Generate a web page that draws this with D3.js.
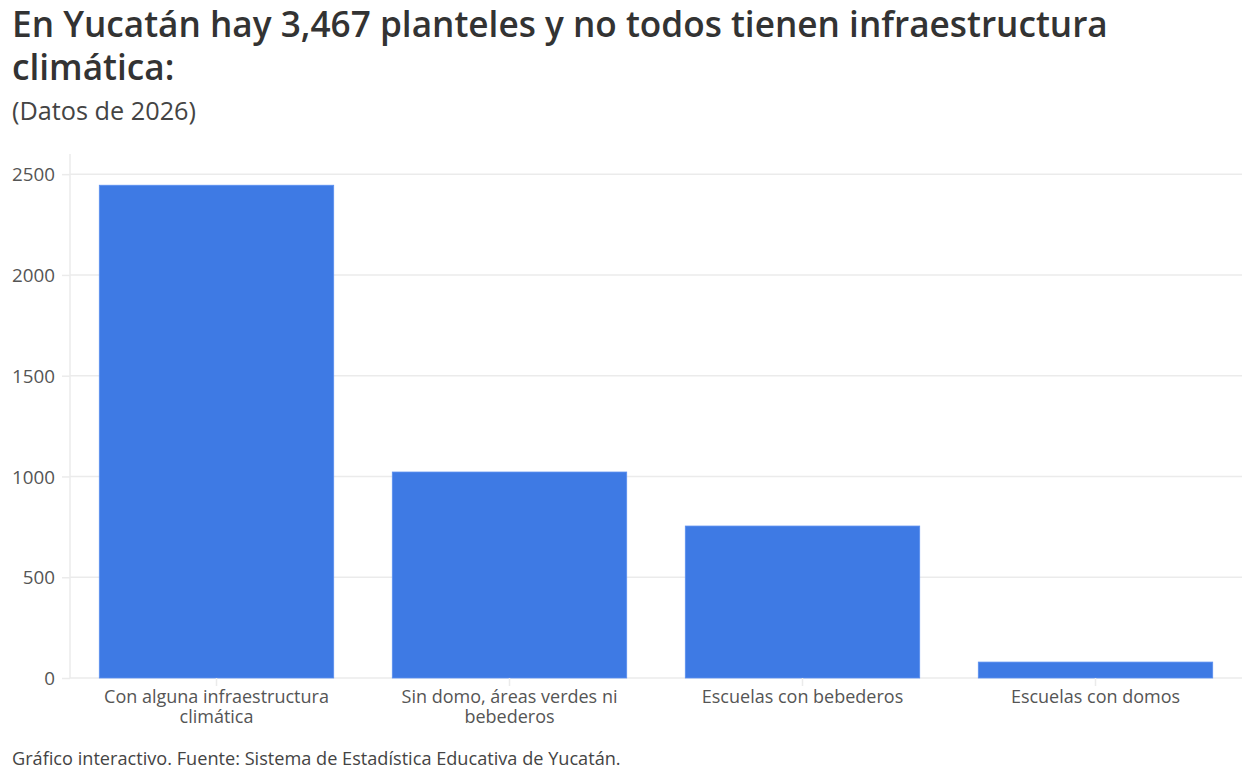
<!DOCTYPE html>
<html><head><meta charset="utf-8">
<script src="https://cdn.jsdelivr.net/npm/d3@7"></script>
<style>body{margin:0;background:#fff;} svg{display:block;font-family:"Open Sans",Roboto,sans-serif;}</style>
</head><body>
<svg id="c" width="1248" height="780"></svg>
<script>
const categories = [["Con alguna infraestructura","climática"],["Sin domo, áreas verdes ni","bebederos"],["Escuelas con bebederos"],["Escuelas con domos"]];
const values = [2445, 1022, 754, 79];
const yTicks = [0, 500, 1000, 1500, 2000, 2500];
const titleLines = ["En Yucatán hay 3,467 planteles y no todos tienen infraestructura","climática:"];
const subtitle = "(Datos de 2026)";
const footer = "Gráfico interactivo. Fuente: Sistema de Estadística Educativa de Yucatán.";

const svg = d3.select("#c");
const L = 70, R = 1242, T = 154, B = 678;
const x = d3.scaleBand().domain(d3.range(values.length)).range([L, R]).paddingInner(0.2).paddingOuter(0.1);
const y = d3.scaleLinear().domain([0, 2600]).range([B, T]);

function fitSize(text, base, weight, target) {
  const t = svg.append("text").attr("font-size", base).attr("font-weight", weight).text(text);
  const w = t.node().getComputedTextLength();
  t.remove();
  return base * target / w;
}
const tickFs = fitSize("2500", 17, 400, 43);
const catFs = fitSize("Con alguna infraestructura", 17, 400, 225);

// gridlines
svg.append("g").selectAll("line").data(yTicks).join("line")
  .attr("x1", L).attr("x2", R).attr("y1", d => y(d)).attr("y2", d => y(d))
  .attr("stroke", "#ebebeb").attr("stroke-width", 1.5);
svg.append("line").attr("x1", L).attr("x2", L).attr("y1", T).attr("y2", B).attr("stroke", "#ebebeb").attr("stroke-width", 1.5);

const yAxis = d3.axisLeft(y).tickValues(yTicks).tickSize(8).tickPadding(7).tickFormat(d3.format("d"));
const gy = svg.append("g").attr("transform", `translate(${L},0)`).call(yAxis);
gy.select(".domain").remove();
gy.selectAll(".tick line").attr("stroke", "#ebebeb").attr("stroke-width", 1.5);
gy.selectAll(".tick text").attr("fill", "#555").attr("font-size", tickFs).attr("font-family", "'Open Sans',sans-serif").attr("dy", "0.35em");

// bars
svg.append("g").selectAll("rect").data(values).join("rect")
  .attr("x", (d, i) => x(i)).attr("width", x.bandwidth())
  .attr("y", d => y(d)).attr("height", d => B - y(d))
  .attr("fill", "#3e7ae4").attr("stroke", "#5b8ff0").attr("stroke-width", 0.8);

// x axis
const xAxis = d3.axisBottom(x).tickSize(8).tickFormat("");
const gx = svg.append("g").attr("transform", `translate(0,${B})`).call(xAxis);
gx.select(".domain").remove();
gx.selectAll(".tick line").attr("stroke", "#ebebeb").attr("stroke-width", 1.5);
svg.append("g").selectAll("text").data(categories).join("text")
  .attr("x", (d, i) => x(i) + x.bandwidth() / 2).attr("y", 703)
  .attr("text-anchor", "middle").attr("fill", "#555").attr("font-size", catFs)
  .selectAll("tspan").data(d => d).join("tspan")
  .attr("x", function() { return this.parentNode.getAttribute("x"); })
  .attr("dy", (d, i) => i ? 20 : 0).text(d => d);

// title
const fs = fitSize(titleLines[0], 32, 600, 1096);
svg.append("text").attr("x", 12).attr("y", 37).attr("font-size", fs).attr("font-weight", 600).attr("fill", "#333").text(titleLines[0]);
svg.append("text").attr("x", 12).attr("y", 80).attr("font-size", fs).attr("font-weight", 600).attr("fill", "#333").text(titleLines[1]);
svg.append("text").attr("x", 12).attr("y", 120).attr("font-size", fitSize(subtitle, 24, 400, 184)).attr("fill", "#444").text(subtitle);
svg.append("text").attr("x", 12).attr("y", 765).attr("font-size", fitSize(footer, 16, 400, 609)).attr("fill", "#444").text(footer);
</script>
</body></html>
